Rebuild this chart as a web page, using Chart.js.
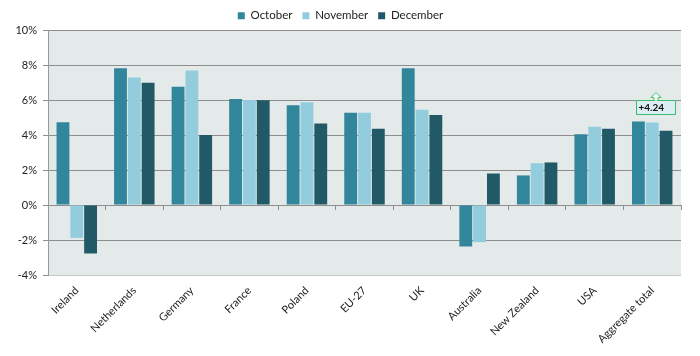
<!DOCTYPE html>
<html>
<head>
<meta charset="utf-8">
<script src="https://cdn.jsdelivr.net/npm/chart.js@4/dist/chart.umd.min.js"></script>
<style>
html,body{margin:0;padding:0;background:#fff;}
#wrap{width:700px;height:356px;position:relative;}
</style>
</head>
<body>
<div id="wrap"><canvas id="c" width="700" height="356"></canvas></div>
<script>
const categories = ["Ireland","Netherlands","Germany","France","Poland","EU-27","UK","Australia","New Zealand","USA","Aggregate total"];
const october  = [4.73, 7.82, 6.76, 6.06, 5.70, 5.27, 7.82, -2.37, 1.69, 4.05, 4.77];
const november = [-1.88, 7.29, 7.69, 6.00, 5.87, 5.27, 5.44, -2.12, 2.39, 4.47, 4.72];
const december = [-2.77, 6.99, 4.00, 5.98, 4.66, 4.36, 5.15, 1.80, 2.43, 4.36, 4.24];
const yTicks = [-4, -2, 0, 2, 4, 6, 8, 10];
const calloutText = "+4.24";
const calloutCategory = "Aggregate total";
const calloutLevel = 5.6;

const FONT = "Lato, 'Open Sans', sans-serif";

const bgPlugin = {
  id: 'plotBg',
  beforeDraw(chart) {
    const a = chart.chartArea, ctx = chart.ctx;
    ctx.save();
    ctx.fillStyle = '#E3EAE9';
    ctx.fillRect(a.left, a.top, a.right - a.left, a.bottom - a.top);
    ctx.restore();
  }
};

const legendFix = {
  id: 'legendFix',
  afterInit(chart) {
    const lg = chart.legend;
    const f = lg.fit.bind(lg);
    lg.fit = function () { f(); this.height = 30; };
  }
};

const calloutPlugin = {
  id: 'callout',
  afterDatasetsDraw(chart) {
    const ctx = chart.ctx;
    const xs = chart.scales.x, ys = chart.scales.y;
    const cx = xs.getPixelForValue(categories.indexOf(calloutCategory)) + 3.5;
    const cy = ys.getPixelForValue(calloutLevel);
    const w = 39, h = 14;
    const l = Math.round(cx - w / 2) + 0.5, t = Math.round(cy - h / 2) + 0.5;
    ctx.save();
    ctx.fillStyle = '#DCEEF4';
    ctx.strokeStyle = '#3DBE6A';
    ctx.lineWidth = 1;
    ctx.fillRect(l, t, w, h);
    ctx.strokeRect(l, t, w, h);
    const ax = l + w / 2, ab = t;
    ctx.beginPath();
    ctx.moveTo(ax - 2, ab);
    ctx.lineTo(ax - 2, ab - 3);
    ctx.lineTo(ax - 5, ab - 3);
    ctx.lineTo(ax, ab - 8);
    ctx.lineTo(ax + 5, ab - 3);
    ctx.lineTo(ax + 2, ab - 3);
    ctx.lineTo(ax + 2, ab);
    ctx.fillStyle = '#FFFFFF';
    ctx.fill();
    ctx.stroke();
    ctx.fillStyle = '#111';
    ctx.font = "bold 10px " + FONT;
    ctx.textAlign = 'left';
    ctx.textBaseline = 'middle';
    ctx.fillText(calloutText, l + 2, t + h / 2 + 0.5);
    ctx.restore();
  }
};

const barCommon = {
  borderWidth: 0,
  categoryPercentage: 0.72,
  barPercentage: 0.93
};

new Chart(document.getElementById('c'), {
  type: 'bar',
  data: {
    labels: categories,
    datasets: [
      Object.assign({ label: 'October', data: october, backgroundColor: '#31869B' }, barCommon),
      Object.assign({ label: 'November', data: november, backgroundColor: '#93CDDD' }, barCommon),
      Object.assign({ label: 'December', data: december, backgroundColor: '#215967' }, barCommon)
    ]
  },
  options: {
    responsive: false,
    animation: false,
    devicePixelRatio: 1,
    layout: { padding: { left: 0, right: 19, top: 0, bottom: 0 } },
    plugins: {
      legend: {
        position: 'top',
        labels: {
          boxWidth: 7, boxHeight: 7, padding: 10,
          color: '#222', font: { family: FONT, size: 11.5 }
        }
      },
      tooltip: { enabled: false }
    },
    scales: {
      x: {
        position: 'bottom',
        grid: { display: false, drawTicks: false },
        border: { display: false },
        ticks: {
          autoSkip: false, maxRotation: 45, minRotation: 45,
          color: '#222', font: { family: FONT, size: 11 }, padding: 9
        },
        afterFit(s) { s.height = 81; }
      },
      x0: {
        type: 'category',
        position: { y: 0 },
        grid: { drawOnChartArea: false, drawTicks: true, tickLength: 4, color: '#8E8E8E', offset: true },
        border: { display: true, color: '#8E8E8E' },
        ticks: { display: false }
      },
      y: {
        min: -4, max: 10,
        afterBuildTicks(s) { s.ticks = yTicks.map(v => ({ value: v })); },
        grid: {
          color: (c) => (c.tick && c.tick.value === -4) ? '#C4C8C8' : '#8E8E8E',
          tickLength: 5, tickColor: '#8E8E8E'
        },
        border: { display: true, color: '#9A9A9A' },
        ticks: {
          color: '#222', font: { family: FONT, size: 11 }, padding: 6,
          callback: (v) => v + '%'
        },
        afterFit(s) { s.width = 48; }
      }
    }
  },
  plugins: [bgPlugin, legendFix, calloutPlugin]
});
</script>
</body>
</html>
